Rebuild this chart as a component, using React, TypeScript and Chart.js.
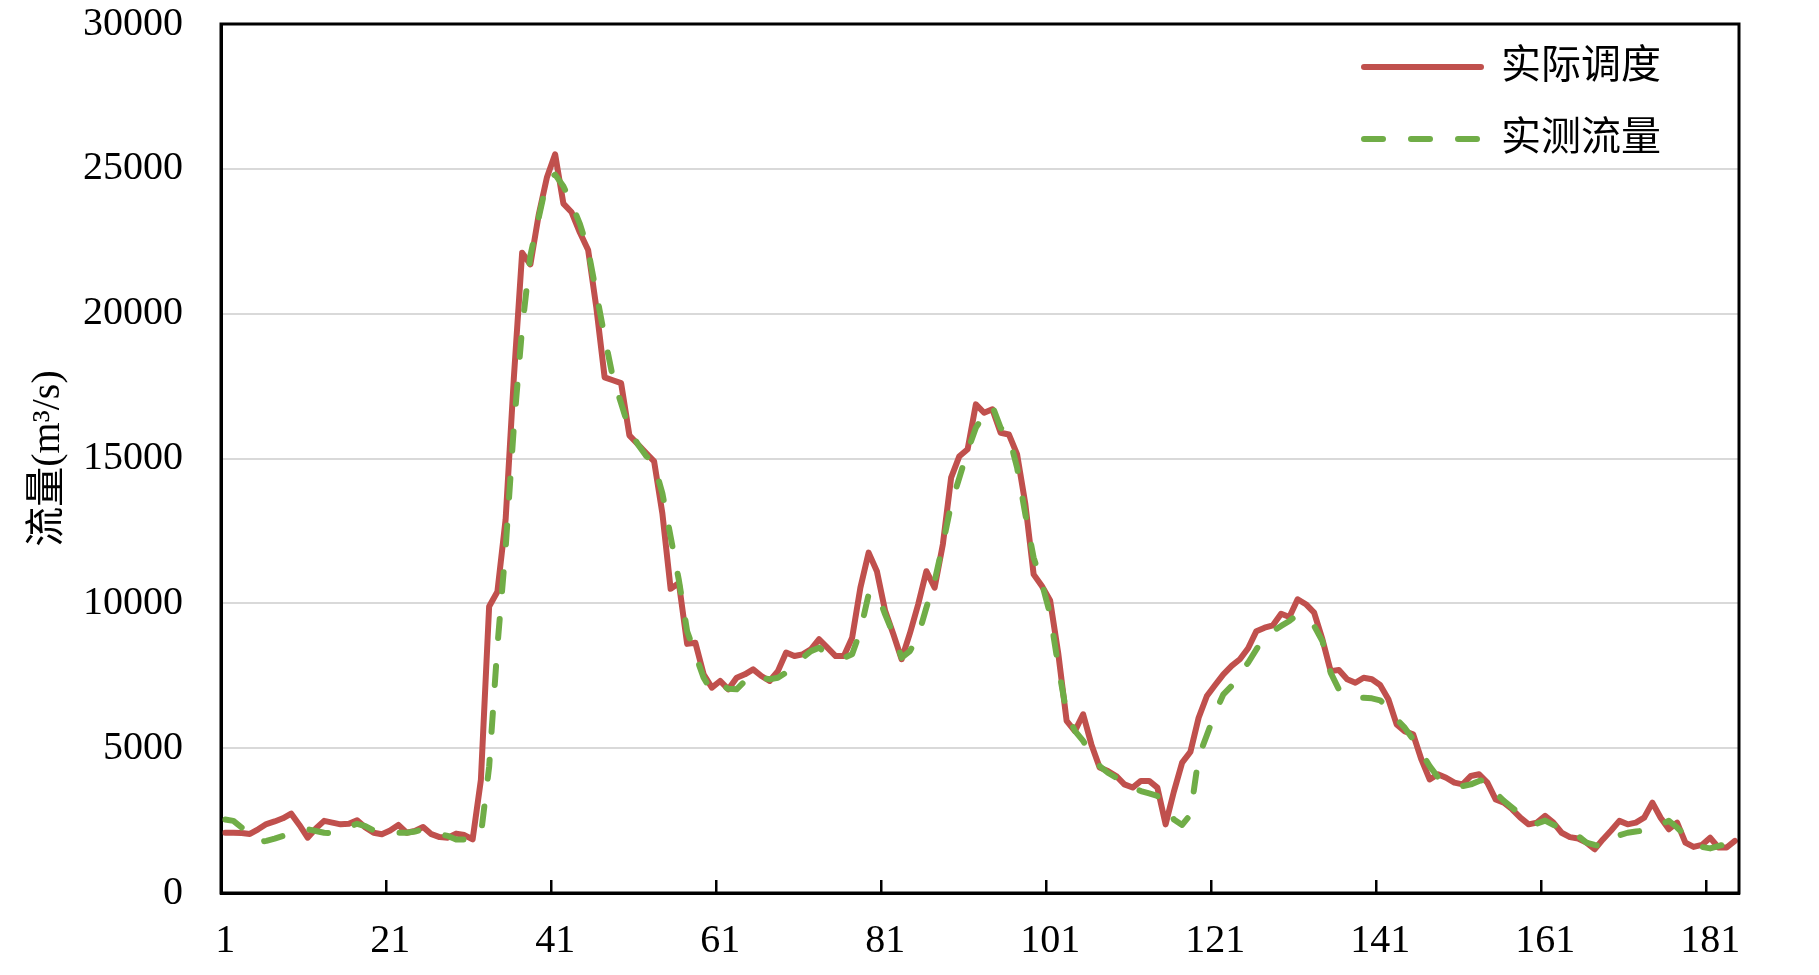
import React, { useEffect, useRef } from 'react';
import { Chart, registerables } from 'chart.js';

Chart.register(...registerables);

// ---------- data ----------
const categories: string[] = Array.from({ length: 184 }, (_, i) => String(i + 1));

const xTickLabels: string[] = ['1', '21', '41', '61', '81', '101', '121', '141', '161', '181'];

const seriesNames: string[] = ['实际调度', '实测流量'];

const actualDispatch: number[] = [
  2080, 2080, 2070, 2040, 2200, 2380, 2470, 2580, 2740, 2350,
  1910, 2230, 2490, 2430, 2370, 2390, 2510, 2260, 2080, 2030,
  2160, 2350, 2080, 2140, 2280, 2030, 1930, 1910, 2050, 2000,
  1850, 3900, 9890, 10400, 12900, 17800, 22100, 21700, 23400, 24700,
  25500, 23800, 23500, 22800, 22200, 20200, 17800, 17700, 17600, 15800,
  15500, 15200, 14900, 13100, 10500, 10700, 8600, 8640, 7550, 7090,
  7320, 7030, 7430, 7550, 7720, 7490, 7320, 7660, 8300, 8180,
  8240, 8410, 8760, 8470, 8180, 8180, 8810, 10540, 11750, 11110,
  9740, 8930, 8070, 8960, 9960, 11110, 10540, 12040, 14340, 15080,
  15320, 16870, 16580, 16700, 15890, 15830, 15140, 13420, 11000, 10600,
  10100, 8240, 5940, 5590, 6170, 5130, 4330, 4210, 4040, 3750,
  3640, 3870, 3870, 3640, 2370, 3500, 4500, 4870, 6050, 6800,
  7180, 7550, 7840, 8070, 8450, 9040, 9160, 9240, 9640, 9530,
  10140, 9970, 9680, 8760, 7660, 7700, 7380, 7260, 7430, 7380,
  7180, 6690, 5820, 5580, 5480, 4610, 3920, 4100, 3980, 3810,
  3750, 4040, 4100, 3810, 3230, 3120, 2890, 2600, 2370, 2430,
  2660, 2430, 2080, 1930, 1880, 1740, 1510, 1850, 2160, 2490,
  2370, 2430, 2600, 3120, 2600, 2200, 2430, 1740, 1590, 1660,
  1910, 1570, 1570, 1800,
];

const measuredFlow: number[] = [
  2540, 2490, 2260, 2000, 1760, 1800, 1880, 1970, 2050, 2150,
  2200, 2140, 2080, 2060, 2150, 2280, 2390, 2310, 2160, 2080,
  2060, 2080, 2080, 2120, 2200, 2100, 2030, 1970, 1850, 1850,
  1970, 2000, 4350, 8500, 11900, 16100, 19500, 22000, 23300, 24600,
  24800, 24400, 23800, 23100, 22200, 20700, 19200, 17800, 16900, 16000,
  15500, 15100, 14800, 13800, 12300, 10800, 9040, 8240, 7430, 6970,
  7200, 7050, 7030, 7320, 7550, 7430, 7380, 7430, 7610, 7800,
  8120, 8350, 8470, 8240, 8120, 8120, 8240, 9040, 10310, 10370,
  9620, 8930, 8120, 8350, 8870, 9850, 10770, 12040, 13420, 14340,
  15260, 16060, 16520, 16810, 16060, 15780, 14680, 13070, 11580, 10700,
  9620, 7800, 6200, 5600, 5250, 4790, 4380, 4150, 3980, 3810,
  3640, 3520, 3440, 3350, 2950, 2540, 2350, 2700, 4700, 5450,
  6220, 6860, 7150, 7600, 7950, 8410, 8870, 9040, 9220, 9390,
  9620, 9450, 9220, 8700, 7610, 7030, 6800, 6740, 6740, 6720,
  6650, 6400, 6000, 5700, 5300, 4850, 4380, 4000, 3810, 3750,
  3690, 3750, 3870, 3920, 3460, 3180, 2950, 2720, 2450, 2400,
  2500, 2350, 2250, 2100, 1970, 1740, 1660, 1590, 1850, 1990,
  2080, 2120, 2160, 2230, 2370, 2490, 2260, 1970, 1740, 1590,
  1540, 1620, 1700, 1800,
];

const yMin = 0;
const yMax = 30000;
const yStep = 5000;
const yTitle = '流量(m³/s)';

// ---------- styles ----------
const SERIF = "'Liberation Serif', 'Times New Roman', serif";
const MIXED = "'Liberation Serif', 'Noto Sans CJK SC', serif";
const RED = '#C0504D';
const GREEN = '#70AD47';
const LINE_W = 6;

// Frame (top/right box lines) and inward category tick marks
const frameAndTicks = {
  id: 'frameAndTicks',
  afterDatasetsDraw(chart: any) {
    const { ctx, chartArea: ca } = chart;
    const x = chart.scales.x;
    ctx.save();
    ctx.strokeStyle = '#000';
    ctx.lineWidth = 3;
    ctx.strokeRect(ca.left, ca.top, ca.right - ca.left, ca.bottom - ca.top);
    const n = x.ticks.length;
    const w = x.getPixelForTick(1) - x.getPixelForTick(0);
    ctx.lineWidth = 2.5;
    ctx.beginPath();
    for (let i = 0; i < n; i++) {
      const lab = categories[i];
      if (!xTickLabels.includes(lab)) continue;
      const px = Math.round(x.getPixelForTick(i) - w / 2) + 0.25;
      ctx.moveTo(px, ca.bottom);
      ctx.lineTo(px, ca.bottom - 13);
    }
    ctx.stroke();
    ctx.restore();
  },
};

// Place the legend inside the plot, top-right
const legendPlacer = {
  id: 'legendPlacer',
  afterLayout(chart: any) {
    const lg = chart.legend;
    if (!lg) return;
    const ca = chart.chartArea;
    const pad = lg.options.labels.padding;
    lg.left = ca.right - 375 - pad;
    lg.top = ca.top + 23 - pad;
  },
};

export default function App() {
  const ref = useRef<HTMLCanvasElement>(null);

  useEffect(() => {
    document.body.style.margin = '0';
    document.body.style.overflow = 'hidden';
    const canvas = ref.current;
    if (!canvas) return;
    const chart = new Chart(canvas, {
      type: 'line',
      data: {
        labels: categories,
        datasets: [
          {
            label: seriesNames[0],
            data: actualDispatch,
            borderColor: RED,
            backgroundColor: RED,
            borderWidth: LINE_W,
            borderCapStyle: 'round',
            borderJoinStyle: 'round',
            pointRadius: 0,
            pointHoverRadius: 0,
            pointStyle: 'line',
            tension: 0,
            fill: false,
            order: 2,
          },
          {
            label: seriesNames[1],
            data: measuredFlow,
            borderColor: GREEN,
            backgroundColor: GREEN,
            borderWidth: LINE_W,
            borderDash: [19, 28],
            borderCapStyle: 'round',
            borderJoinStyle: 'round',
            pointRadius: 0,
            pointHoverRadius: 0,
            pointStyle: 'line',
            tension: 0,
            fill: false,
            order: 1,
          },
        ],
      },
      options: {
        responsive: false,
        animation: false,
        devicePixelRatio: 1,
        layout: { padding: { left: 0, top: 24, right: 80, bottom: 0 } },
        plugins: {
          legend: {
            position: 'chartArea',
            align: 'start',
            labels: {
              usePointStyle: true,
              pointStyle: 'line',
              pointStyleWidth: 117,
              padding: 32,
              color: '#000',
              font: { size: 40, family: MIXED },
              sort: (a: any, b: any) => a.datasetIndex - b.datasetIndex,
              generateLabels: (chart: any) => {
                const items = (Chart as any).defaults.plugins.legend.labels.generateLabels(chart);
                items.forEach((it: any) => {
                  const ds = chart.data.datasets[it.datasetIndex];
                  it.lineDash = ds.borderDash || [];
                  it.lineDashOffset = 0;
                  it.lineCap = 'round';
                  it.lineWidth = LINE_W;
                  it.strokeStyle = ds.borderColor;
                  it.fillStyle = ds.borderColor;
                });
                return items;
              },
            },
          },
          tooltip: { enabled: false },
        },
        scales: {
          x: {
            type: 'category',
            offset: true,
            grid: { display: true, drawOnChartArea: false, drawTicks: false },
            border: { display: true, color: '#000', width: 3 },
            ticks: {
              autoSkip: false,
              maxRotation: 0,
              minRotation: 0,
              padding: 24,
              color: '#000',
              font: { size: 40, family: SERIF },
              callback: function (this: any, value: any) {
                const lab = this.getLabelForValue(value);
                return xTickLabels.includes(lab) ? lab : '';
              },
            },
            afterFit: (s: any) => {
              s.height = 82;
              s.paddingLeft = 0;
              s.paddingRight = 0;
            },
          },
          y: {
            min: yMin,
            max: yMax,
            grid: { color: '#D9D9D9', lineWidth: 2, drawTicks: false },
            border: { display: true, color: '#000', width: 3 },
            ticks: {
              stepSize: yStep,
              padding: 38,
              color: '#000',
              font: { size: 40, family: SERIF },
              callback: (v: any) => String(v),
            },
            title: {
              display: true,
              text: yTitle,
              color: '#000',
              font: { size: 40, family: MIXED },
              padding: { top: 24, bottom: 0 },
            },
            afterFit: (s: any) => {
              s.width = 221;
              s.paddingTop = 0;
              s.paddingBottom = 0;
            },
          },
        },
      },
      plugins: [frameAndTicks, legendPlacer],
    } as any);
    return () => chart.destroy();
  }, []);

  return (
    <div style={{ width: 1819, height: 975 }}>
      <canvas ref={ref} width={1819} height={975} style={{ display: 'block' }} />
    </div>
  );
}
